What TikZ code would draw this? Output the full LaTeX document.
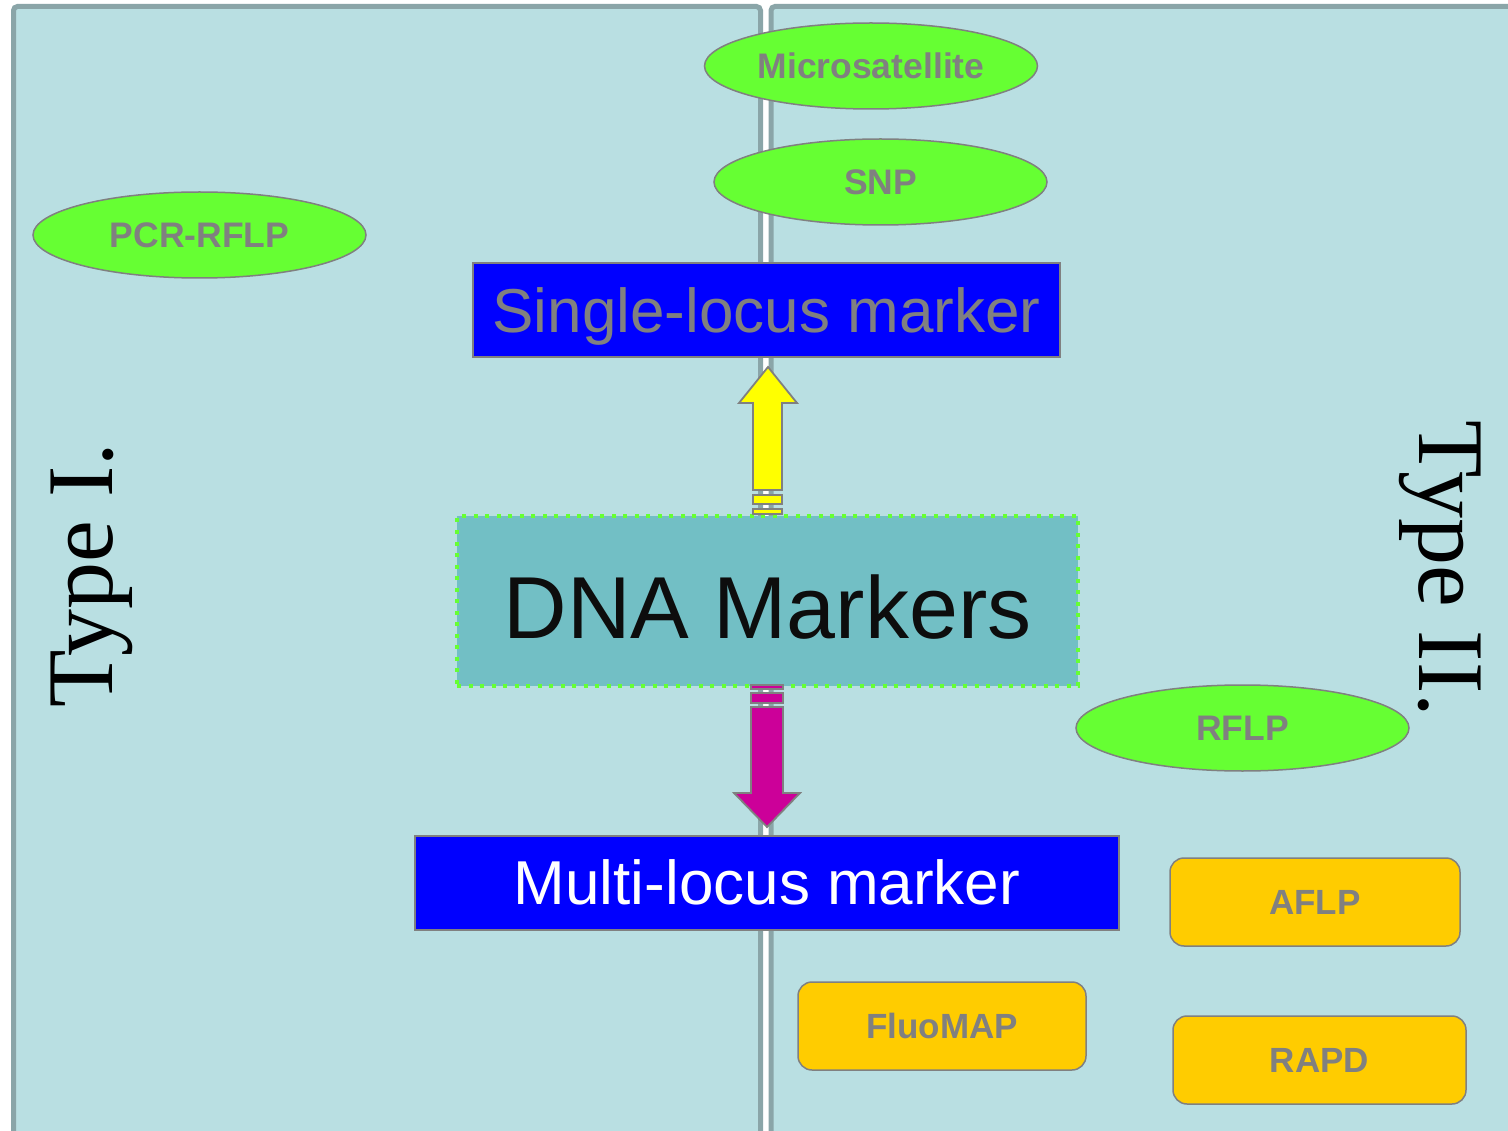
\documentclass[tikz,border=0pt]{standalone}
\usepackage{fontspec}
\setmainfont{Liberation Serif}
\setsansfont{Liberation Sans}
\usetikzlibrary{shapes.geometric}

\definecolor{panelfill}{HTML}{B9DFE2}
\definecolor{panelline}{HTML}{8AA5A8}
\definecolor{ovalgreen}{HTML}{66FF33}
\definecolor{labelgray}{HTML}{808080}
\definecolor{dnafill}{HTML}{72BFC5}
\definecolor{boxblue}{HTML}{0000FF}
\definecolor{amber}{HTML}{FFCC00}
\definecolor{arrowyellow}{HTML}{FFFF00}
\definecolor{arrowmagenta}{HTML}{CC0099}

\tikzset{
  panel/.style={draw=panelline, line width=5pt, fill=panelfill, rounded corners=4pt},
  oval/.style={ellipse, draw=labelgray, line width=1.5pt, fill=ovalgreen,
    minimum width=333pt, minimum height=86pt, inner sep=0pt,
    font=\fontsize{35.5}{40}\selectfont\sffamily\bfseries, text=labelgray},
  tag/.style={rectangle, rounded corners=14pt, draw=labelgray, line width=1.5pt,
    fill=amber, minimum height=88pt, inner sep=0pt,
    font=\fontsize{35}{40}\selectfont\sffamily\bfseries, text=labelgray},
  bluebox/.style={rectangle, draw=labelgray, line width=2pt, fill=boxblue,
    minimum height=94pt, inner sep=0pt, text height=44pt, text depth=0pt,
    font=\fontsize{62}{70}\selectfont\sffamily},
  typelabel/.style={font=\fontsize{94}{100}\selectfont, text=black, inner sep=0pt, anchor=base},
  striped/.style={draw=labelgray, line width=1.8pt, line join=miter}
}

\begin{document}
\begin{tikzpicture}[x=1pt, y=-1pt]
  \useasboundingbox (0,0) rectangle (1508,1131);
  \clip (0,0) rectangle (1508,1131);
  \fill[white] (0,0) rectangle (1508,1131);

  % two background panels
  \draw[panel] (13.5,6.5) rectangle (760.5,1145);
  \draw[panel] (771,6.5) rectangle (1525,1145);

  % side captions
  \node[typelabel, rotate=90] (type1) at (112,575) {Type I.};
  \node[typelabel, rotate=-90] (type2) at (1419,569) {Type II.};

  % marker ovals
  \node[oval] (micro) at (871,66) {Microsatellite};
  \node[oval] (snp) at (880.5,182) {SNP};
  \node[oval] (pcr) at (199.5,235) {PCR-RFLP};
  \node[oval] (rflp) at (1242.5,728) {RFLP};

  % central boxes
  \node[bluebox, minimum width=587pt, text=labelgray] (single) at (766.5,310.5) {Single-locus marker};
  \node[rectangle, fill=dnafill, draw=ovalgreen, line width=4.5pt,
        dash pattern=on 4pt off 7.5pt, minimum width=621pt, minimum height=170pt,
        inner sep=0pt, text height=74pt, text depth=0pt,
        font=\fontsize{88}{96}\selectfont\sffamily, text=black!95] (dna) at (767.5,601) {DNA Markers};
  \node[bluebox, minimum width=704pt, text=white] (multi) at (767,882.5) {Multi-locus marker};

  % method tags
  \node[tag, minimum width=290pt] (aflp) at (1315,902) {AFLP};
  \node[tag, minimum width=288pt] (fluo) at (942,1026) {FluoMAP};
  \node[tag, minimum width=293pt] (rapd) at (1319.5,1060) {RAPD};

  % striped arrow up to the single-locus box
  \draw[striped, fill=arrowyellow]
    (768,367) -- (739,403) -- (753,403) -- (753,490) -- (782,490) -- (782,403) -- (797,403) -- cycle;
  \draw[striped, fill=arrowyellow] (753,495) rectangle (782,504);
  \draw[striped, fill=arrowyellow] (753,509) rectangle (782,514);

  % striped arrow down to the multi-locus box
  \draw[striped, fill=arrowmagenta] (751,685) rectangle (783,689);
  \draw[striped, fill=arrowmagenta] (751,693) rectangle (783,703);
  \draw[striped, fill=arrowmagenta]
    (751,707) -- (783,707) -- (783,793) -- (800,793) -- (767,827) -- (734,793) -- (751,793) -- cycle;
\end{tikzpicture}
\end{document}
